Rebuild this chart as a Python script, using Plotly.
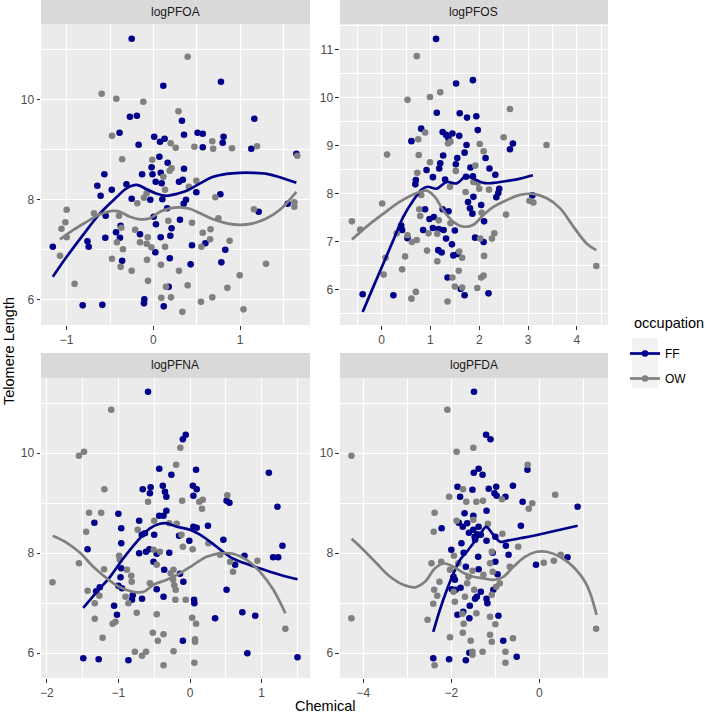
import plotly.graph_objects as go

# ---------------- data ----------------
panels = ["logPFOA", "logPFOS", "logPFNA", "logPFDA"]
groups = ["FF", "OW"]
colors = {"FF": "#00008B", "OW": "#808080"}

pfoa_ff = [(-0.25,11.21),(0.115,10.27),(0.78,10.35),(-0.27,9.65),(-0.19,9.67),(0.33,9.57),(1.165,9.61),(-0.39,9.33),(-0.17,9.09),(0.01,9.25),(0.077,9.15),(0.13,9.21),(0.354,9.29),(0.51,9.33),(0.57,9.31),(0.57,9.04),(0.81,9.25),(0.80,9.13),(1.13,9.01),(1.65,8.91),(0.07,8.85),(0.165,8.73),(-0.02,8.64),(0.354,8.61),(-0.565,8.5),(-0.13,8.5),(-0.01,8.5),(0.085,8.53),(-0.646,8.27),(-0.608,8.07),(-0.48,8.19),(-0.31,8.3),(0.027,8.35),(0.096,8.32),(0.296,8.35),(0.34,8.39),(0.496,8.14),(0.773,8.1),(-0.25,8.01),(-0.035,7.99),(0.104,8.0),(0.377,7.99),(0.35,7.91),(1.55,7.91),(1.215,7.75),(-0.55,7.67),(0.004,7.65),(0.16,7.82),(0.307,7.59),(0.03,7.5),(0.21,7.42),(-0.377,7.47),(-0.43,7.34),(-0.385,7.23),(-0.154,7.3),(0.196,7.27),(0.085,7.24),(-0.554,7.23),(-0.76,7.16),(-0.746,7.05),(-1.16,7.05),(0.446,7.08),(0.83,6.99),(0.023,6.94),(-0.36,6.77),(0.19,6.82),(0.43,6.7),(0.785,6.74),(0.6,7.12),(0.177,6.25),(-0.815,5.88),(-0.588,5.89),(-0.104,6.0),(-0.108,5.92),(0.12,5.86)]
pfoa_ow = [(0.396,10.85),(-0.596,10.11),(-0.427,10.01),(-0.115,9.95),(0.29,9.76),(-0.477,9.27),(0.2,9.12),(0.258,9.03),(0.473,9.05),(0.68,9.16),(0.69,9.01),(0.907,9.02),(1.196,9.06),(1.66,8.87),(-0.36,8.8),(-0.012,8.79),(0.188,8.57),(0.21,8.62),(0.115,8.45),(0.496,8.37),(0.41,8.25),(-0.185,7.92),(-0.108,8.03),(-0.077,8.12),(0.135,8.19),(0.715,8.04),(1.627,7.94),(1.627,7.85),(1.16,7.8),(-1.0,7.79),(-0.685,7.72),(-0.396,7.67),(-1.015,7.54),(-1.06,7.41),(-0.37,7.43),(-0.21,7.39),(-0.065,7.24),(0.173,7.57),(0.446,7.53),(0.57,7.33),(0.66,7.4),(0.75,7.62),(0.654,7.2),(0.88,7.17),(-1.0,7.24),(-0.42,7.14),(-0.35,7.0),(-0.154,7.14),(-0.077,7.11),(-0.023,7.04),(0.135,7.05),(0.554,7.05),(-1.077,6.87),(-0.477,6.81),(-0.377,6.65),(-0.25,6.57),(-0.073,6.79),(0.088,6.69),(0.296,6.57),(1.3,6.71),(0.996,6.48),(-0.062,6.37),(-0.908,6.31),(0.396,6.28),(0.146,6.25),(0.854,6.23),(0.092,6.03),(0.204,6.04),(0.68,6.04),(0.55,5.95),(1.04,5.8),(0.335,5.75)]

pfos_ff = [(1.115,11.22),(1.87,10.36),(1.525,10.29),(1.13,9.68),(1.6,9.67),(1.75,9.58),(1.94,9.61),(0.81,9.35),(1.25,9.28),(1.32,9.22),(1.45,9.25),(1.59,9.2),(1.97,9.32),(1.37,9.15),(0.61,9.09),(1.74,9.01),(2.69,9.04),(2.63,8.92),(1.26,8.79),(1.55,8.74),(1.70,8.85),(2.13,8.74),(1.2,8.63),(1.52,8.61),(1.18,8.52),(0.92,8.49),(1.05,8.34),(0.70,8.28),(0.69,8.19),(1.3,8.29),(1.82,8.54),(1.87,8.36),(2.21,8.52),(2.33,8.39),(1.73,8.35),(2.41,8.1),(2.39,8.01),(2.35,7.92),(1.88,7.93),(1.77,7.82),(2.04,7.76),(3.09,7.96),(0.89,7.67),(1.25,7.67),(1.37,7.63),(1.81,7.69),(1.86,7.58),(0.98,7.47),(1.07,7.51),(2.1,7.42),(1.05,7.28),(1.17,7.26),(1.27,7.24),(0.4,7.33),(0.42,7.24),(0.53,7.07),(0.85,7.24),(1.5,7.23),(1.32,7.06),(1.44,6.94),(1.915,7.08),(2.09,6.99),(1.16,6.82),(1.23,6.77),(1.47,6.71),(1.56,6.74),(1.35,6.25),(1.62,6.01),(1.70,5.88),(2.19,5.92),(-0.39,5.9),(0.24,5.88)]
pfos_ow = [(0.72,10.86),(1.2,10.11),(0.99,10.01),(0.53,9.95),(2.63,9.76),(0.89,9.27),(0.75,9.13),(1.36,9.04),(1.41,9.08),(2.5,9.17),(3.38,9.01),(0.11,8.81),(0.76,8.8),(2.01,9.03),(2.09,8.88),(0.99,8.65),(0.73,8.43),(1.52,8.47),(1.92,8.58),(1.88,8.24),(1.97,8.22),(2.2,8.08),(0.01,7.79),(0.81,7.97),(1.4,8.14),(1.72,8.03),(2.0,8.1),(3.03,7.85),(3.11,7.81),(0.77,7.67),(0.79,7.53),(1.17,7.44),(1.41,7.38),(2.05,7.6),(2.55,7.56),(-0.61,7.42),(-0.44,7.25),(0.31,7.17),(0.53,7.13),(0.62,6.99),(0.72,7.03),(0.96,7.17),(1.14,7.16),(2.02,7.06),(2.26,7.06),(2.31,7.17),(0.08,6.66),(0.48,6.69),(0.93,6.81),(1.14,6.59),(1.59,6.79),(1.65,6.66),(2.1,6.7),(0.04,6.31),(0.42,6.42),(1.45,6.25),(1.58,6.39),(2.04,6.25),(2.09,6.29),(4.4,6.49),(1.5,6.06),(1.65,6.04),(1.96,6.03),(0.7,5.95),(0.61,5.81),(1.35,5.75)]

pfna_ff = [(-0.586,11.23),(-0.06,10.37),(-0.1,10.28),(-0.43,9.69),(-0.26,9.57),(0.084,9.67),(1.1,9.61),(-0.66,9.28),(-0.55,9.32),(-0.56,9.2),(-0.38,9.35),(-0.35,9.23),(-0.33,9.13),(0.04,9.35),(0.093,9.28),(0.047,9.15),(0.51,9.05),(0.55,9.01),(1.22,8.93),(-0.33,8.85),(-0.43,8.75),(-0.37,8.75),(-1.0,8.79),(-1.335,8.61),(-0.96,8.5),(-0.71,8.65),(0.047,8.53),(0.093,8.51),(0.25,8.55),(-0.674,8.37),(-0.63,8.4),(-0.5,8.37),(-0.153,8.35),(-0.96,8.2),(-0.01,8.25),(0.465,8.27),(-0.614,8.03),(-0.567,8.08),(-0.71,8.0),(-0.465,7.99),(-0.29,8.01),(-1.43,8.08),(1.16,7.92),(1.23,7.92),(1.29,8.15),(0.76,7.95),(0.63,7.77),(-0.51,7.83),(-0.36,7.67),(-0.14,7.59),(-0.96,7.7),(-0.97,7.52),(-0.093,7.43),(-1.0,7.35),(-0.95,7.3),(-0.465,7.28),(-1.31,7.24),(-1.26,7.32),(-0.8,7.16),(-0.81,7.07),(-0.67,7.09),(-0.37,7.13),(0.056,7.07),(0.06,7.0),(0.51,7.27),(-1.06,6.95),(-1.02,6.77),(0.35,6.7),(0.73,6.82),(0.91,6.75),(-0.1,6.25),(-1.49,5.9),(-1.275,5.88),(-0.86,5.86),(0.8,6.0),(1.5,5.92)]
pfna_ow = [(-1.1,10.87),(-1.55,9.95),(-1.48,10.03),(-0.135,10.11),(-0.195,9.77),(-1.195,9.28),(-0.586,9.03),(-0.11,9.05),(0.13,9.03),(0.177,9.07),(0.52,9.16),(0.167,8.89),(-1.41,8.81),(-1.24,8.81),(-1.45,8.43),(-0.5,8.65),(-0.73,8.47),(-0.186,8.59),(-0.12,8.37),(-0.29,8.6),(-0.1,8.13),(0.037,8.08),(0.256,8.2),(-1.55,7.8),(-1.92,7.42),(-1.2,7.68),(-0.99,7.95),(-0.98,7.87),(-0.88,7.67),(-0.82,7.55),(-0.814,7.43),(-0.507,8.07),(-0.42,8.03),(-0.465,7.77),(-0.23,7.67),(-0.27,7.6),(-0.237,7.47),(-0.22,7.36),(-0.56,7.4),(-0.2,7.27),(0.42,7.97),(0.56,7.83),(0.6,7.63),(0.94,7.85),(-1.43,7.25),(-1.265,7.15),(-1.33,7.0),(-0.9,7.13),(-0.86,7.0),(-0.744,6.81),(-0.465,6.78),(-0.205,7.07),(-0.06,7.07),(-1.33,6.69),(-1.08,6.59),(-1.04,6.63),(0.03,6.71),(0.084,6.59),(-0.52,6.41),(-0.37,6.38),(-0.45,6.25),(-1.22,6.31),(0.07,6.28),(0.07,6.23),(1.33,6.49),(-0.77,6.03),(-0.67,5.95),(-0.614,6.03),(-0.23,6.04),(-0.37,5.76),(0.06,5.81)]

pfda_ff = [(-1.485,11.23),(-1.21,10.37),(-1.11,10.28),(-0.27,9.67),(-1.49,9.61),(-1.38,9.69),(-1.29,9.57),(-1.86,9.33),(-1.8,9.13),(-1.52,9.27),(-1.15,9.29),(-0.98,9.33),(-0.6,9.35),(-1.02,9.2),(-0.97,9.15),(-0.77,9.13),(-0.38,9.03),(0.87,8.93),(-1.7,8.8),(-1.5,8.75),(-1.2,8.85),(-2.22,8.5),(-1.83,8.61),(-1.64,8.6),(-1.74,8.53),(-0.42,8.55),(-1.38,8.53),(-1.5,8.47),(-1.6,8.41),(-1.41,8.38),(-1.33,8.37),(-1.47,8.33),(-1.46,8.27),(-1.2,8.25),(-1.0,8.33),(-1.77,8.2),(-0.76,8.15),(-2.0,8.07),(-1.72,8.01),(-1.39,7.93),(-1.06,8.01),(-0.7,7.97),(-0.076,7.77),(0.64,7.92),(-1.0,7.83),(-1.67,7.73),(-1.38,7.68),(-0.95,7.58),(-1.95,7.53),(-1.92,7.47),(-1.99,7.28),(-1.9,7.27),(-1.79,7.31),(-1.33,7.23),(-1.045,7.27),(-1.46,7.09),(-1.42,7.13),(-1.2,7.09),(-1.18,7.0),(-1.58,6.95),(-1.73,6.83),(-1.86,6.77),(-1.59,6.7),(-0.93,6.75),(-0.82,6.25),(-2.41,5.9),(-2.05,5.88),(-1.67,5.86),(-1.59,6.01),(-0.515,5.93)]
pfda_ow = [(-2.09,10.87),(-4.27,9.95),(-1.5,10.11),(-1.88,10.03),(-0.265,9.77),(-1.735,9.28),(-2.05,9.13),(-1.66,9.03),(-1.43,9.03),(-1.28,9.05),(-0.85,9.08),(-0.16,9.0),(-0.24,8.89),(0.36,9.17),(-2.38,8.81),(-2.4,8.43),(-1.88,8.65),(-1.17,8.59),(-1.5,8.67),(-0.84,8.39),(-0.48,8.13),(0.1,7.81),(0.33,7.85),(0.485,7.97),(-2.45,7.8),(-2.23,7.83),(-1.94,7.95),(-2.03,7.67),(-1.84,7.8),(-1.52,7.65),(-1.08,8.03),(-1.12,7.8),(-1.06,7.63),(-1.61,7.53),(-1.27,7.57),(-0.67,7.73),(-2.27,7.43),(-1.64,7.4),(-0.98,7.33),(-0.9,7.4),(-2.39,7.27),(-2.32,7.15),(-1.95,7.23),(-1.92,7.03),(-1.69,7.13),(-1.48,7.27),(-1.08,7.17),(-2.41,6.99),(-2.54,6.67),(-4.27,6.7),(-1.75,6.79),(-1.43,6.8),(-1.12,6.73),(-1.0,6.58),(-1.72,6.59),(-1.74,6.41),(-2.03,6.32),(-1.56,6.25),(-1.12,6.37),(-1.08,6.23),(-0.6,6.3),(1.29,6.49),(-1.52,6.03),(-1.29,6.03),(-0.77,6.03),(-1.52,5.97),(-2.38,5.76),(-0.77,5.81)]

# smoothed (loess) curves
pfoa_ff_fit_x = [-1.16,-1.0,-0.81,-0.615,-0.42,-0.31,-0.19,-0.077,0.04,0.154,0.27,0.385,0.54,0.69,0.846,1.0,1.15,1.31,1.46,1.65]
pfoa_ff_fit_y = [6.45,6.85,7.29,7.72,8.05,8.22,8.29,8.2,8.11,8.07,8.11,8.17,8.32,8.45,8.51,8.53,8.53,8.51,8.44,8.33]
pfoa_ow_fit_x = [-1.077,-0.923,-0.77,-0.615,-0.46,-0.385,-0.27,-0.154,-0.04,0.077,0.19,0.31,0.42,0.54,0.69,0.846,1.0,1.15,1.31,1.46,1.65]
pfoa_ow_fit_y = [7.2,7.39,7.55,7.7,7.77,7.75,7.65,7.6,7.62,7.75,7.82,7.84,7.81,7.72,7.6,7.52,7.49,7.52,7.62,7.79,8.15]

pfos_ff_fit_x = [-0.39,-0.17,0.034,0.24,0.44,0.65,0.82,0.94,1.13,1.33,1.54,1.73,1.88,2.09,2.29,2.56,2.84,3.1]
pfos_ff_fit_y = [5.53,6.06,6.54,7.03,7.51,7.86,8.08,8.14,8.1,8.24,8.21,8.36,8.31,8.22,8.22,8.26,8.31,8.38]
pfos_ow_fit_x = [-0.61,-0.31,0.034,0.376,0.72,0.92,1.09,1.26,1.47,1.675,1.88,2.085,2.29,2.56,2.84,3.11,3.385,3.66,3.93,4.2,4.4]
pfos_ow_fit_y = [7.04,7.31,7.58,7.83,8.01,8.06,7.93,7.65,7.41,7.31,7.35,7.55,7.72,7.86,7.97,7.99,7.9,7.69,7.31,6.96,6.82]

pfna_ff_fit_x = [-1.49,-1.30,-1.116,-0.93,-0.744,-0.56,-0.42,-0.326,-0.186,0.0,0.186,0.372,0.558,0.744,0.93,1.116,1.30,1.5]
pfna_ff_fit_y = [6.91,7.23,7.53,7.9,8.23,8.5,8.59,8.6,8.53,8.47,8.33,8.13,7.93,7.81,7.72,7.63,7.55,7.48]
pfna_ow_fit_x = [-1.916,-1.72,-1.535,-1.35,-1.163,-0.977,-0.79,-0.65,-0.51,-0.326,-0.14,0.047,0.233,0.42,0.6,0.79,0.977,1.163,1.33]
pfna_ow_fit_y = [8.35,8.21,8.01,7.73,7.5,7.32,7.23,7.23,7.37,7.47,7.6,7.77,7.93,8.0,7.99,7.87,7.63,7.27,6.8]

pfda_ff_fit_x = [-2.41,-2.26,-2.1,-1.95,-1.8,-1.65,-1.5,-1.35,-1.21,-1.045,-0.89,-0.74,-0.44,-0.136,0.167,0.47,0.87]
pfda_ff_fit_y = [6.43,6.87,7.27,7.6,7.87,8.03,8.2,8.37,8.53,8.37,8.23,8.25,8.3,8.35,8.41,8.47,8.55]
pfda_ow_fit_x = [-4.265,-4.0,-3.7,-3.39,-3.09,-2.83,-2.6,-2.37,-2.18,-1.95,-1.73,-1.5,-1.27,-1.045,-0.82,-0.59,-0.33,-0.06,0.167,0.47,0.77,1.076,1.3]
pfda_ow_fit_y = [8.29,8.07,7.8,7.53,7.37,7.32,7.43,7.7,7.8,7.73,7.61,7.53,7.5,7.47,7.53,7.73,7.93,8.03,8.03,7.93,7.73,7.37,6.77]

points = {
    "logPFOA": {"FF": pfoa_ff, "OW": pfoa_ow},
    "logPFOS": {"FF": pfos_ff, "OW": pfos_ow},
    "logPFNA": {"FF": pfna_ff, "OW": pfna_ow},
    "logPFDA": {"FF": pfda_ff, "OW": pfda_ow},
}
fits = {
    "logPFOA": {"FF": (pfoa_ff_fit_x, pfoa_ff_fit_y), "OW": (pfoa_ow_fit_x, pfoa_ow_fit_y)},
    "logPFOS": {"FF": (pfos_ff_fit_x, pfos_ff_fit_y), "OW": (pfos_ow_fit_x, pfos_ow_fit_y)},
    "logPFNA": {"FF": (pfna_ff_fit_x, pfna_ff_fit_y), "OW": (pfna_ow_fit_x, pfna_ow_fit_y)},
    "logPFDA": {"FF": (pfda_ff_fit_x, pfda_ff_fit_y), "OW": (pfda_ow_fit_x, pfda_ow_fit_y)},
}

# ---------------- layout / styling ----------------
x_ranges = [[-1.296, 1.807], [-0.855, 4.64], [-2.08, 1.674], [-4.53, 1.56]]
y_ranges = [[5.486, 11.506], [5.26, 11.53], [5.506, 11.506], [5.506, 11.506]]
x_dtick = [1, 1, 1, 2]
y_dtick = [2, 1, 2, 2]
x_domains = [[0, 0.4744], [0.5273, 1], [0, 0.4744], [0.5273, 1]]
y_domains = [[0.5206, 0.9646], [0.5206, 0.9646], [0, 0.4425], [0, 0.4425]]
strip_y = [[0.9646, 1.0], [0.9646, 1.0], [0.4425, 0.4794], [0.4425, 0.4794]]

FONT = "Liberation Sans, Arial, Helvetica, sans-serif"

fig = go.Figure()

for i, p in enumerate(panels):
    ax = "" if i == 0 else str(i + 1)
    for g in groups:
        pts = points[p][g]
        fig.add_trace(go.Scatter(
            x=[a for a, b in pts], y=[b for a, b in pts], mode="markers",
            marker=dict(color=colors[g], size=6.6, line=dict(width=0)),
            xaxis="x" + ax, yaxis="y" + ax, showlegend=False, hoverinfo="skip"))
    for g in groups:
        fx, fy = fits[p][g]
        fig.add_trace(go.Scatter(
            x=fx, y=fy, mode="lines", line=dict(color=colors[g], width=2.7, shape="spline"),
            xaxis="x" + ax, yaxis="y" + ax, showlegend=False, hoverinfo="skip"))

# legend entries
for g in groups:
    fig.add_trace(go.Scatter(x=[None], y=[None], mode="lines+markers", name=g,
                             legendgroup=g,
                             marker=dict(color=colors[g], size=6.6),
                             line=dict(color=colors[g], width=2.7)))

axis_common = dict(
    showgrid=True, gridcolor="white", gridwidth=1.1, zeroline=False, showline=False,
    ticks="outside", ticklen=3.5, tickwidth=1.1, tickcolor="#333333",
    tickfont=dict(family=FONT, size=12, color="#4D4D4D"),
)

def px_x(px):
    return (px - 41) / 567.0

def px_y(py):
    return (678 - py) / 678.0

layout = dict(
    width=709, height=715,
    margin=dict(l=41, r=101, t=0, b=37),
    paper_bgcolor="white", plot_bgcolor="#EBEBEB",
    font=dict(family=FONT),
    showlegend=True,
    legend=dict(
        font=dict(family=FONT, size=12, color="black"),
        x=px_x(625), xanchor="left", y=px_y(339), yanchor="top",
        bgcolor="rgba(0,0,0,0)", itemwidth=30, tracegroupgap=6,
    ),
    shapes=[], annotations=[],
)

for i, p in enumerate(panels):
    ax = "" if i == 0 else str(i + 1)
    layout["xaxis" + ax] = dict(axis_common, domain=x_domains[i], range=x_ranges[i],
                                dtick=x_dtick[i], anchor="y" + ax,
                                minor=dict(dtick=x_dtick[i] / 2, showgrid=True,
                                           gridcolor="white", gridwidth=0.55, ticks=""))
    layout["yaxis" + ax] = dict(axis_common, domain=y_domains[i], range=y_ranges[i],
                                dtick=y_dtick[i], anchor="x" + ax,
                                minor=dict(dtick=y_dtick[i] / 2, showgrid=True,
                                           gridcolor="white", gridwidth=0.55, ticks=""))
    layout["shapes"].append(dict(type="rect", xref="paper", yref="paper",
                                 x0=x_domains[i][0], x1=x_domains[i][1],
                                 y0=strip_y[i][0], y1=strip_y[i][1],
                                 fillcolor="#D9D9D9", line=dict(width=0), layer="below"))
    layout["annotations"].append(dict(text=p, xref="paper", yref="paper",
                                      x=(x_domains[i][0] + x_domains[i][1]) / 2,
                                      y=(strip_y[i][0] + strip_y[i][1]) / 2,
                                      showarrow=False, xanchor="center", yanchor="middle",
                                      font=dict(family=FONT, size=12, color="#1A1A1A")))

# legend key background and title
layout["shapes"].append(dict(type="rect", xref="paper", yref="paper",
                             x0=px_x(632), x1=px_x(658), y0=px_y(388), y1=px_y(338),
                             fillcolor="#F2F2F2", line=dict(width=0), layer="below"))
layout["annotations"].append(dict(text="occupation", xref="paper", yref="paper",
                                  x=px_x(632), y=px_y(323), showarrow=False,
                                  xanchor="left", yanchor="middle",
                                  font=dict(family=FONT, size=14.5, color="black")))

layout["annotations"].append(dict(text="Chemical", xref="paper", yref="paper",
                                  x=px_x(324.5), y=px_y(706), showarrow=False,
                                  xanchor="center", yanchor="middle",
                                  font=dict(family=FONT, size=14.5, color="black")))
layout["annotations"].append(dict(text="Telomere Length", xref="paper", yref="paper",
                                  x=px_x(9), y=px_y(351), showarrow=False, textangle=-90,
                                  xanchor="center", yanchor="middle",
                                  font=dict(family=FONT, size=14.5, color="black")))

fig.update_layout(**layout)
fig.write_html("out.html", config={"displayModeBar": False},
               post_script="document.body.style.margin='0px';")
